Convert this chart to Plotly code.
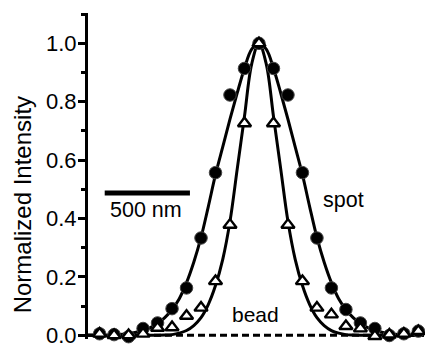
import plotly.graph_objects as go

# ---------------- data ----------------
# sample positions (nm), pixel pitch ~85 nm
point_x = [-935, -850, -765, -680, -595, -510, -425, -340, -255, -170, -85, 0,
           85, 170, 255, 340, 425, 510, 595, 680, 765, 850, 935]
spot_vals = [0.005, 0.002, -0.005, 0.023, 0.042, 0.091, 0.162, 0.333, 0.557, 0.823, 0.914, 1.0,
             0.914, 0.823, 0.557, 0.333, 0.162, 0.088, 0.042, 0.023, -0.001, 0.005, 0.014]
bead_vals = [0.005, 0.0, 0.0, 0.005, 0.025, 0.027, 0.066, 0.094, 0.185, 0.378, 0.726, 1.0,
             0.726, 0.378, 0.185, 0.094, 0.071, 0.031, 0.023, -0.003, 0.002, 0.005, 0.014]

# fitted curves
curve_x = [-1003, -935, -850, -765, -680, -637.5, -595, -552.5, -510, -467.5, -425, -382.5,
           -340, -297.5, -255, -212.5, -170, -127.5, -85, -42.5, 0,
           42.5, 85, 127.5, 170, 212.5, 255, 297.5, 340, 382.5, 425, 467.5, 510,
           552.5, 595, 637.5, 680, 765, 850, 935, 968]
spot_fit = [0.0, 0.0, 0.001, 0.005, 0.016, 0.026, 0.04, 0.06, 0.088, 0.125, 0.18, 0.25,
            0.335, 0.44, 0.55, 0.645, 0.74, 0.83, 0.915, 0.98, 1.0,
            0.98, 0.915, 0.83, 0.74, 0.645, 0.55, 0.44, 0.335, 0.25, 0.18, 0.125, 0.088,
            0.06, 0.04, 0.026, 0.016, 0.005, 0.001, 0.0, 0.0]
bead_fit = [0.0, 0.0, 0.0, 0.0, 0.0, 0.0, 0.0, 0.0005, 0.002, 0.007, 0.016, 0.033,
            0.06, 0.105, 0.17, 0.26, 0.39, 0.57, 0.75, 0.93, 1.0,
            0.93, 0.75, 0.57, 0.39, 0.26, 0.17, 0.105, 0.06, 0.033, 0.016, 0.007, 0.002,
            0.0005, 0.0, 0.0, 0.0, 0.0, 0.0, 0.0, 0.0]

baseline_x = [-1003, 960]
baseline_y = [0, 0]
scalebar_x = [-905, -405]
scalebar_y = [0.487, 0.487]

y_tickvals = [0.0, 0.2, 0.4, 0.6, 0.8, 1.0]
y_ticktext = ["0.0", "0.2", "0.4", "0.6", "0.8", "1.0"]

FONT = "Liberation Sans, Arial, Helvetica, sans-serif"

fig = go.Figure()
fig.add_trace(go.Scatter(x=baseline_x, y=baseline_y, mode="lines",
                         line=dict(color="black", width=3, dash="7px,4px"),
                         hoverinfo="skip", showlegend=False))
fig.add_trace(go.Scatter(x=curve_x, y=spot_fit, mode="lines",
                         line=dict(color="black", width=3, shape="spline", smoothing=1),
                         showlegend=False, cliponaxis=False))
fig.add_trace(go.Scatter(x=curve_x, y=bead_fit, mode="lines",
                         line=dict(color="black", width=3, shape="spline", smoothing=1),
                         showlegend=False, cliponaxis=False))
fig.add_trace(go.Scatter(x=point_x, y=spot_vals, mode="markers",
                         marker=dict(symbol="circle", size=12.5, color="black",
                                     line=dict(color="#444444", width=1)),
                         showlegend=False, cliponaxis=False))
fig.add_trace(go.Scatter(x=point_x, y=bead_vals, mode="markers",
                         marker=dict(symbol="triangle-up", size=11.5, color="white",
                                     line=dict(color="black", width=2.4)),
                         showlegend=False, cliponaxis=False))
fig.add_trace(go.Scatter(x=scalebar_x, y=scalebar_y, mode="lines",
                         line=dict(color="black", width=5),
                         hoverinfo="skip", showlegend=False))

fig.update_layout(
    width=425, height=349,
    margin=dict(l=88, r=0, t=13, b=10),
    paper_bgcolor="white", plot_bgcolor="white",
    font=dict(family=FONT, size=21, color="black"),
    xaxis=dict(visible=False, range=[-1003, 974]),
    yaxis=dict(range=[-0.013, 1.104], showline=True, linecolor="black", linewidth=3,
               ticks="outside", ticklen=7, tickwidth=3, tickcolor="black",
               tickvals=y_tickvals, ticktext=y_ticktext, ticklabelstandoff=-3,
               showgrid=False, zeroline=False,
               tickfont=dict(family=FONT, size=22, color="black"),
               minor=dict(ticks="outside", ticklen=4, tickwidth=3, tickcolor="black",
                          dtick=0.1, showgrid=False)),
    annotations=[
        dict(text="Normalized Intensity", x=-0.194, xref="paper", y=0.447, yref="y",
             textangle=-90, showarrow=False, font=dict(family=FONT, size=24),
             xanchor="center", yanchor="middle"),
        dict(text="500 nm", x=-664, xref="x", y=0.428, yref="y", showarrow=False,
             font=dict(family=FONT, size=21.5), xanchor="center", yanchor="middle"),
        dict(text="spot", x=495, xref="x", y=0.464, yref="y", showarrow=False,
             font=dict(family=FONT, size=21.5), xanchor="center", yanchor="middle"),
        dict(text="bead", x=-18, xref="x", y=0.072, yref="y", showarrow=False,
             font=dict(family=FONT, size=21), xanchor="center", yanchor="middle"),
    ],
)

fig.write_html("out.html")
